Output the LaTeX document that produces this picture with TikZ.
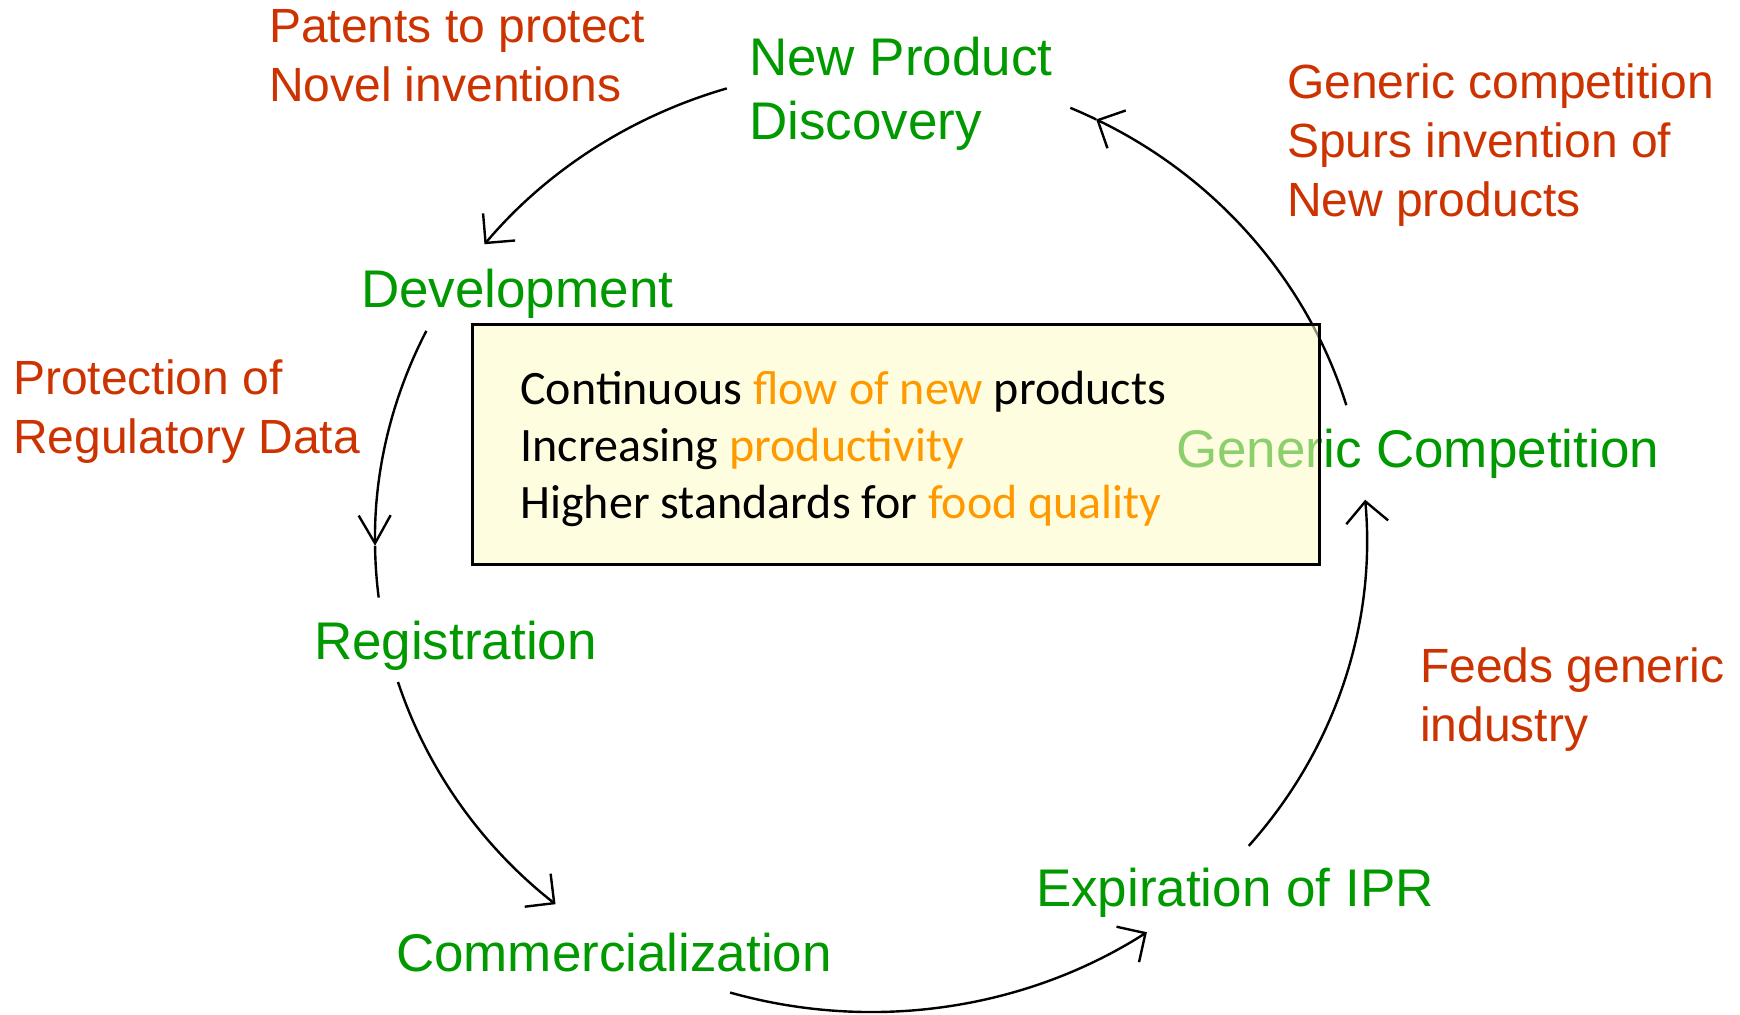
\documentclass[tikz,border=0pt]{standalone}
\usepackage{fontspec}
\setmainfont{Liberation Sans}
\newfontfamily\boxfont{Carlito}
\usetikzlibrary{arrows.meta}
\definecolor{stagegreen}{RGB}{0,153,0}
\definecolor{notered}{RGB}{204,51,0}
\definecolor{hiorange}{RGB}{255,153,0}
\definecolor{boxyellow}{RGB}{255,252,200}
\begin{document}
\begin{tikzpicture}[x=0.5pt,y=-0.5pt,
  stage/.style={anchor=north west, inner sep=0pt, outer sep=0pt, align=left, text=stagegreen, font=\fontsize{26.5}{32}\selectfont},
  note/.style={anchor=north west, inner sep=0pt, outer sep=0pt, align=left, text=notered, font=\fontsize{24}{29.5}\selectfont},
  cyc/.style={line width=1.2pt, draw=black},
  tipped/.style={-{Straight Barb[length=10.5pt,width=21pt,line width=1.2pt]}},
  narrowtip/.style={-{Straight Barb[length=14pt,width=16pt,line width=1.2pt]}},
  er/.style={x radius=496, y radius=472},
  summary/.style={draw=black, line width=1.5pt, fill=boxyellow, fill opacity=0.55, draw opacity=1, text opacity=1, inner sep=0pt, minimum width=423.5pt, minimum height=120pt},
  summarytext/.style={anchor=north west, inner sep=0pt, align=left, font=\boxfont\fontsize{24}{28.5}\selectfont}
]
\useasboundingbox (0,0) rectangle (1740,1014);
\fill[white] (0,0) rectangle (1740,1014);

% labels
\node[note] (patents) at (269,9) {Patents to protect\\Novel inventions};
\node[stage] (npd) at (749,37) {New Product\\Discovery};
\node[note] (spurs) at (1287,64) {Generic competition\\Spurs invention of\\New products};
\node[stage] (dev) at (361,269) {Development};
\node[note] (regdata) at (13,360) {Protection of\\Regulatory Data};
\node[stage] (gc) at (1176,429) {Generic Competition};
\node[stage] (reg) at (314,621) {Registration};
\node[note] (feeds) at (1420,648) {Feeds generic\\industry};
\node[stage] (exp) at (1036,868) {Expiration of IPR};
\node[stage] (comm) at (396,933) {Commercialization};

% cycle arcs on a common ellipse
\coordinate (ctr) at (871,540);
\path (ctr) ++(-106.9:496 and 472) coordinate (aS);
\path (ctr) ++(206.3:496 and 472) coordinate (bS);
\path (ctr) ++(179.3:496 and 472) coordinate (bM);
\path (ctr) ++(162.5:496 and 472) coordinate (cS);
\path (ctr) ++(106.5:496 and 472) coordinate (dS);
\path (ctr) ++(40.4:496 and 472) coordinate (eS);
\path (ctr) ++(-16.6:496 and 472) coordinate (fS);
\path (ctr) ++(-63:496 and 472) coordinate (fM);

\draw[cyc,tipped] (aS) arc[start angle=-106.9, end angle=-141.2, er];
\draw[cyc,narrowtip] (bS) arc[start angle=206.3, end angle=179.3, er];
\draw[cyc] (bM) arc[start angle=179.3, end angle=173.0, er];
\draw[cyc,tipped] (cS) arc[start angle=162.5, end angle=129.5, er];
\draw[cyc,tipped] (dS) arc[start angle=106.5, end angle=56.2, er];
\draw[cyc,tipped] (eS) arc[start angle=40.4, end angle=-4.9, er];
\draw[cyc,tipped] (fS) arc[start angle=-16.6, end angle=-63, er];
\draw[cyc] (fM) arc[start angle=-63, end angle=-66.3, er];

% central box
\node[summary] (box) at (895.5,444) {};
\node[summarytext] (boxtext) at (520,371) {Continuous \textcolor{hiorange}{flow of new} products\\Increasing \textcolor{hiorange}{productivity}\\Higher standards for \textcolor{hiorange}{food quality}};
\end{tikzpicture}
\end{document}
